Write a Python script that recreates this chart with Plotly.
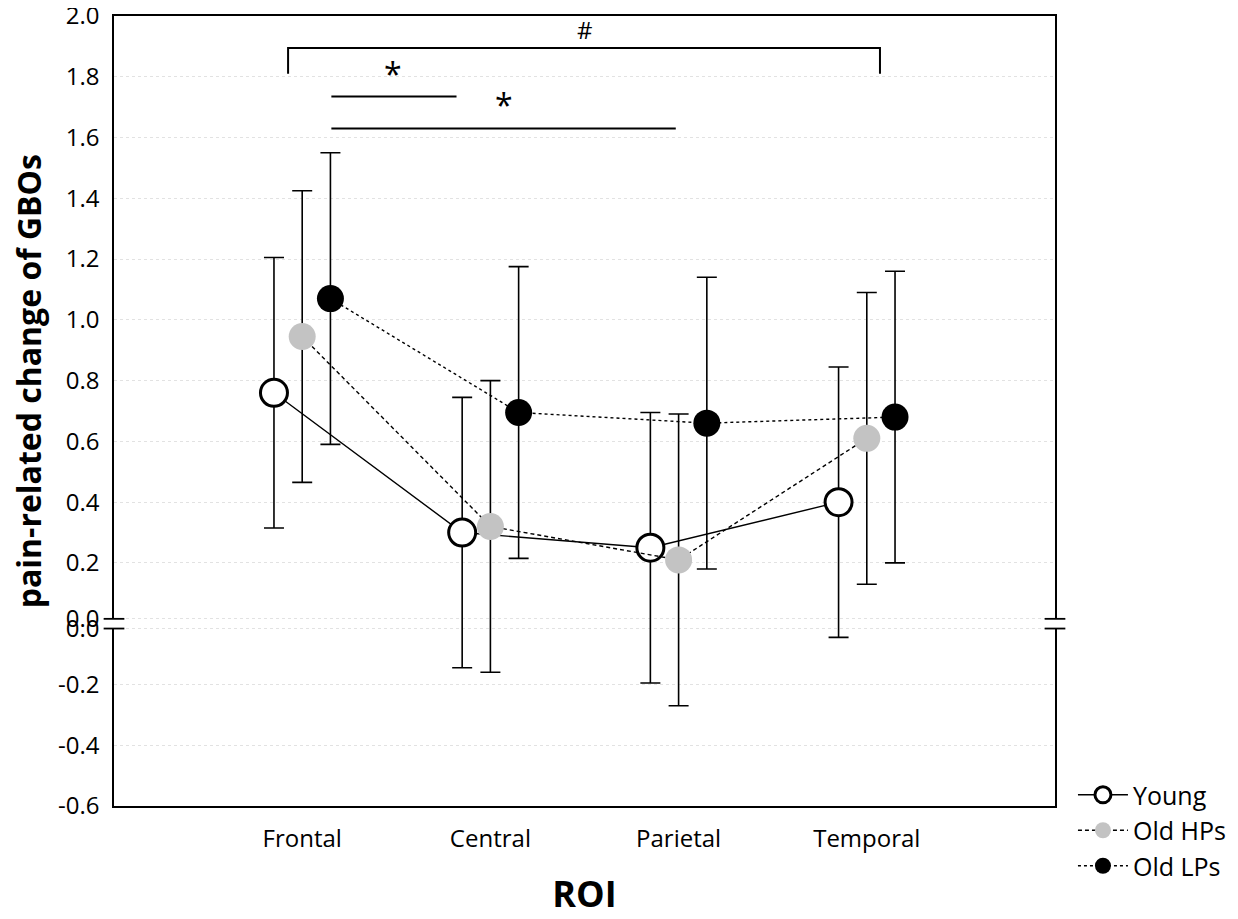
'''
pain-related change of GBOs per ROI for three groups
'''
import plotly.graph_objects as go

rois = ['Frontal', 'Central', 'Parietal', 'Temporal']
groups = ['Young', 'Old HPs', 'Old LPs']

young_mean = [0.76, 0.30, 0.25, 0.40]
young_err = [0.445, 0.445, 0.445, 0.445]
old_hp_mean = [0.945, 0.32, 0.21, 0.61]
old_hp_err = [0.48, 0.48, 0.48, 0.48]
old_lp_mean = [1.07, 0.695, 0.66, 0.68]
old_lp_err = [0.48, 0.48, 0.48, 0.48]

y_ticks = [-0.6, -0.4, -0.2, 0.0, 0.2, 0.4, 0.6, 0.8, 1.0, 1.2, 1.4, 1.6, 1.8, 2.0]

FONT = 'Open Sans'

means = [young_mean, old_hp_mean, old_lp_mean]
errs = [young_err, old_hp_err, old_lp_err]
offsets = [-0.15, 0.0, 0.15]
styles = [
    dict(fill='white', line_dash='solid', border=3),
    dict(fill='#c3c3c3', line_dash='4px,3px', border=0),
    dict(fill='black', line_dash='dot', border=0),
]

fig = go.Figure()
for group, mean, err, off, st in zip(groups, means, errs, offsets, styles):
    xs = [i + off for i in range(len(rois))]
    fig.add_trace(go.Scatter(
        x=xs, y=mean, name=group, mode='lines+markers',
        line=dict(color='black', width=1.4, dash=st['line_dash']),
        marker=dict(size=27, color=st['fill'],
                    line=dict(color='black', width=st['border'])),
        error_y=dict(type='data', array=err, visible=True,
                     color='black', thickness=1.6, width=10),
        cliponaxis=False,
    ))

# the "0.0" tick is shown twice around the axis break
tick_vals = [v if v != 0.0 else -0.016 for v in y_ticks] + [0.016]
tick_text = [f'{v:.1f}' for v in y_ticks] + ['0.0']

# significance brackets
line_style = dict(color='black', width=2)
fig.add_shape(type='path', path='M -0.075 1.81 L -0.075 1.895 L 3.07 1.895 L 3.07 1.81',
              line=line_style)
fig.add_shape(type='line', x0=0.155, x1=0.82, y0=1.735, y1=1.735, line=line_style)
fig.add_shape(type='line', x0=0.155, x1=1.985, y0=1.63, y1=1.63, line=line_style)
fig.add_annotation(x=1.5, y=1.895, text='#', showarrow=False, yanchor='bottom',
                   font=dict(size=24, family=FONT, color='black'))
fig.add_annotation(x=0.48, y=1.735, text='*', showarrow=False, yanchor='bottom',
                   font=dict(size=32, family=FONT, color='black'))
fig.add_annotation(x=1.07, y=1.63, text='*', showarrow=False, yanchor='bottom',
                   font=dict(size=32, family=FONT, color='black'))

# y axis title, placed as in the reference
fig.add_annotation(xref='paper', yref='paper', x=-0.09, y=0.538,
                   text='pain-related change of GBOs', textangle=-90,
                   showarrow=False, xanchor='center', yanchor='middle',
                   font=dict(size=32, family=FONT, weight='bold', color='black'))

# axis break marks on both vertical frame lines
for xp in [0, 1]:
    fig.add_shape(type='line', xref='paper', x0=xp, x1=xp, y0=-0.016, y1=0.016,
                  line=dict(color='white', width=4))
    for yb in [-0.016, 0.016]:
        fig.add_shape(type='line', xref='paper', x0=xp - 0.011, x1=xp + 0.011,
                      y0=yb, y1=yb, line=dict(color='black', width=1.8))

fig.update_layout(
    width=1230, height=911,
    margin=dict(l=106, r=182, t=8, b=113),
    plot_bgcolor='white', paper_bgcolor='white',
    font=dict(family=FONT, color='black', size=24),
    showlegend=True,
    legend=dict(x=1.018, y=0.043, xanchor='left', yanchor='top',
                font=dict(size=25, family=FONT), bgcolor='rgba(0,0,0,0)',
                itemwidth=50, tracegroupgap=0),
)
fig.update_xaxes(
    range=[-1, 4], tickvals=list(range(len(rois))), ticktext=rois,
    showgrid=False, zeroline=False, showline=True, linecolor='black',
    linewidth=1.5, mirror=True, ticks='', automargin=False,
    ticklabelstandoff=10,
    tickfont=dict(size=24, family=FONT),
    title=dict(text='ROI', font=dict(size=36, family=FONT, weight='bold'), standoff=29),
)
fig.update_yaxes(
    range=[-0.6, 2.0], tickvals=tick_vals, ticktext=tick_text,
    showgrid=True, gridcolor='#e2e2e2', griddash='dot', gridwidth=1,
    zeroline=False, showline=True, linecolor='black', linewidth=1.5,
    mirror=True, ticks='', ticklabelstandoff=8, automargin=False,
    ticklabeloverflow='allow',
    tickfont=dict(size=24, family=FONT),
)

fig.write_html('out.html')
